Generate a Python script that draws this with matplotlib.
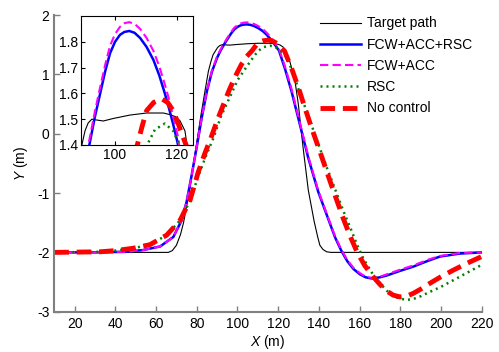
import matplotlib
matplotlib.use("Agg")
import matplotlib.pyplot as plt
import numpy as np

plt.rcParams['font.family'] = ['Liberation Sans', 'DejaVu Sans']
plt.rcParams['font.size'] = 10
plt.rcParams['mathtext.fontset'] = 'custom'
plt.rcParams['mathtext.it'] = 'Liberation Sans:italic'
plt.rcParams['mathtext.rm'] = 'Liberation Sans'
plt.rcParams['axes.unicode_minus'] = False

# ---- data ----
target_x = [10, 60, 66, 68, 70, 72, 73.5, 75, 76.5, 78, 80, 82, 84, 85.7, 87, 88, 89.2,
            90.3, 91.3, 92.5, 94, 96.2, 99.5, 104.8, 110.2, 115.6, 117.7, 119.5, 121,
            122.6, 123.3, 124.5, 125.8, 128.3, 129.9, 132.3, 134.8, 137.7, 139.5, 140.5,
            142, 143.8, 146, 220]
target_y = [-2, -2, -2, -1.97, -1.88, -1.7, -1.5, -1.22, -0.95, -0.6, -0.15, 0.3, 0.71,
            1.05, 1.22, 1.33, 1.396, 1.455, 1.485, 1.5, 1.497, 1.493, 1.503, 1.516, 1.524,
            1.524, 1.518, 1.51, 1.494, 1.455, 1.396, 1.3, 1.21, 0.88, 0.5, -0.25, -0.95,
            -1.48, -1.75, -1.88, -1.95, -1.99, -2, -2]

ctrl_x = [10, 30, 45, 53.7, 62, 68.5, 72.6, 75, 77.5, 80, 82.5, 85, 87.5, 90, 91.7, 93.5,
          95.2, 96.8, 98.4, 100, 101.6, 103, 104.6, 106.3, 108.1, 110.2, 112.4, 114.3,
          116.1, 117.5, 118.8, 120.4, 123.3, 126.6, 129.9, 134.8, 139.7, 145.4, 148, 151,
          154, 157, 160.2, 163, 166, 170, 173.3, 180, 186.4, 193, 199.5, 209.3, 220]
full_y = [-2, -2, -1.99, -1.96, -1.9, -1.74, -1.46, -1.15, -0.7, -0.22, 0.28, 0.72, 1.05,
          1.28, 1.4, 1.51, 1.6, 1.685, 1.756, 1.8, 1.827, 1.838, 1.842, 1.835, 1.815, 1.78,
          1.73, 1.67, 1.6, 1.54, 1.48, 1.4, 1.1, 0.71, 0.26, -0.41, -0.98, -1.51, -1.75,
          -1.97, -2.15, -2.28, -2.37, -2.42, -2.44, -2.42, -2.39, -2.31, -2.24, -2.15,
          -2.07, -2.02, -2.0]
fcw_acc_y = [-2, -2, -1.99, -1.96, -1.9, -1.74, -1.46, -1.15, -0.7, -0.22, 0.28, 0.73,
             1.07, 1.3, 1.42, 1.53, 1.625, 1.71, 1.785, 1.83, 1.858, 1.872, 1.876, 1.87,
             1.85, 1.815, 1.765, 1.705, 1.635, 1.575, 1.51, 1.43, 1.14, 0.75, 0.29, -0.38,
             -0.96, -1.49, -1.73, -1.95, -2.13, -2.26, -2.35, -2.41, -2.43, -2.41, -2.37,
             -2.29, -2.22, -2.13, -2.06, -2.01, -2.0]

rsc_x = [10, 32.5, 40, 48.8, 57, 65.2, 71.8, 76.7, 80.7, 84, 88.1, 92, 96.3, 100, 104.5,
         108, 110.2, 112.9, 116.1, 118.8, 121, 122.5, 124.2, 127.4, 130, 134.8, 140, 144,
         148.7, 152, 155.3, 158.5, 161.8, 166, 170, 173.5, 177.4, 180, 183.1, 186, 190,
         193, 200, 206, 213, 220]
rsc_y = [-2, -1.99, -1.97, -1.93, -1.87, -1.71, -1.46, -1.13, -0.72, -0.42, -0.08, 0.3,
         0.62, 0.9, 1.13, 1.3, 1.396, 1.46, 1.483, 1.455, 1.396, 1.36, 1.28, 1.02, 0.75,
         0.3, -0.2, -0.58, -1.0, -1.3, -1.57, -1.85, -2.1, -2.34, -2.52, -2.65, -2.75,
         -2.78, -2.8, -2.79, -2.74, -2.69, -2.58, -2.47, -2.34, -2.21]

noctrl_x = [10, 32.5, 40, 48.8, 57, 65.2, 71.8, 76.7, 80.7, 84, 87.3, 90, 93, 96, 99, 102,
            104.5, 107.2, 108.7, 110.2, 112.5, 115.1, 117, 118.8, 120.5, 122, 123.1, 126.6,
            130, 133.2, 136.5, 140, 143, 146, 149, 152, 155.3, 158.6, 162.5, 166.7, 170,
            173.3, 176.5, 179.8, 183, 186.4, 190, 194.6, 200, 206, 213, 220]
noctrl_y = [-2, -1.99, -1.97, -1.93, -1.87, -1.71, -1.46, -1.12, -0.65, -0.33, -0.04,
            0.22, 0.48, 0.74, 0.97, 1.17, 1.3, 1.4, 1.47, 1.533, 1.565, 1.579, 1.565,
            1.533, 1.48, 1.43, 1.396, 1.1, 0.77, 0.43, 0.09, -0.25, -0.55, -0.85, -1.14,
            -1.43, -1.72, -1.98, -2.22, -2.41, -2.54, -2.65, -2.72, -2.75, -2.74, -2.69,
            -2.62, -2.52, -2.41, -2.3, -2.18, -2.07]

labels = ["Target path", "FCW+ACC+RSC", "FCW+ACC", "RSC", "No control"]


def draw_curves(ax):
    ax.plot(target_x, target_y, color="black", lw=0.8, label=labels[0])
    ax.plot(ctrl_x, full_y, color="#0000ff", lw=1.8, label=labels[1])
    ax.plot(ctrl_x, fcw_acc_y, color="#ff00ff", lw=1.5, ls=(0, (4, 2)), label=labels[2])
    ax.plot(rsc_x, rsc_y, color="#008000", lw=1.8, ls=(0, (0.8, 1.6)), label=labels[3])
    ax.plot(noctrl_x, noctrl_y, color="#ff0000", lw=3.5, ls=(0, (3, 1.6)), label=labels[4])


fig = plt.figure(figsize=(4.99, 3.52), dpi=100)
ax = fig.add_axes([0.1088, 0.1144, 0.8565, 0.8429])
draw_curves(ax)
ax.set_xlim(10, 220)
ax.set_ylim(-3, 2)
ax.set_xticks(np.arange(20, 221, 20))
ax.set_yticks([-3, -2, -1, 0, 1, 2])
for s in ["top", "right"]:
    ax.spines[s].set_visible(False)
for s in ["left", "bottom"]:
    ax.spines[s].set_color("#808080")
    ax.spines[s].set_linewidth(1.5)
ax.tick_params(direction="in", length=4, color="#808080", width=1, labelsize=10)
ax.set_xlabel(r"$\mathit{X}$ (m)", fontsize=10, labelpad=2)
ax.set_ylabel(r"$\mathit{Y}$ (m)", fontsize=10, labelpad=5)

leg = ax.legend(loc="upper left", bbox_to_anchor=(320 / 499, 1 - 16.5 / 352),
                bbox_transform=fig.transFigure, frameon=False, fontsize=10,
                handlelength=2.95, handletextpad=0.45, borderpad=0, borderaxespad=0,
                labelspacing=0.52)

# inset
axin = fig.add_axes([81 / 499, 1 - 145 / 352, 112.3 / 499, 129 / 352])
draw_curves(axin)
axin.set_xlim(89, 125.3)
axin.set_ylim(1.4, 1.9)
axin.set_xticks([100, 120])
axin.set_yticks([1.4, 1.5, 1.6, 1.7, 1.8])
axin.tick_params(direction="in", length=3, width=0.8, top=True, right=True, labelsize=10, pad=2)
for s in axin.spines.values():
    s.set_linewidth(0.8)

fig.savefig("out.png", dpi=100)
